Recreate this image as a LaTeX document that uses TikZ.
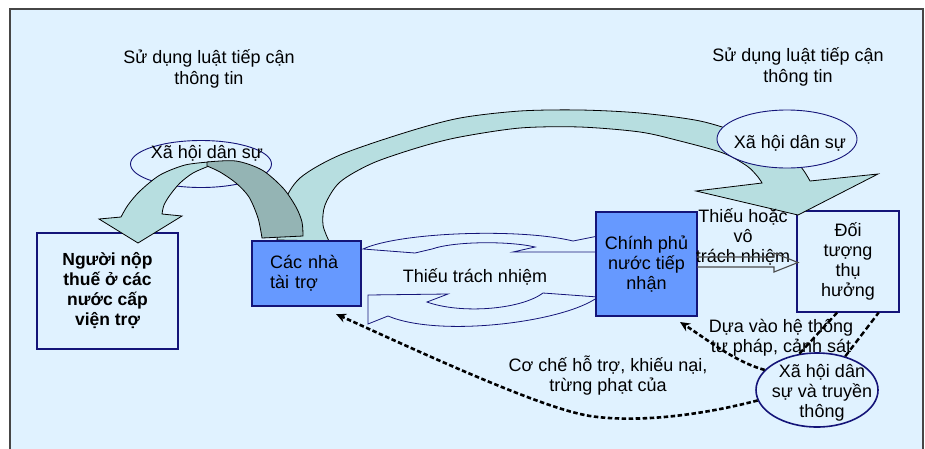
\documentclass[tikz,border=0pt]{standalone}
\usepackage{fontspec}
\setmainfont{Liberation Sans}
\usetikzlibrary{arrows.meta,shapes.geometric,calc}
\definecolor{bgblue}{RGB}{224,242,255}
\definecolor{navy}{RGB}{20,20,120}
\definecolor{boxblue}{RGB}{102,153,255}
\definecolor{tealA}{RGB}{183,222,224}
\definecolor{tealB}{RGB}{148,180,180}
\definecolor{framegray}{RGB}{70,70,70}
\begin{document}
\begin{tikzpicture}[x=1pt,y=-1pt,
  every node/.style={font=\fontsize{18}{20}\selectfont, text=black},
  plainbox/.style={draw=navy, line width=1.1pt, fill=bgblue, inner sep=0pt},
  bluebox/.style={draw=navy, line width=1.4pt, fill=boxblue, inner sep=0pt},
  oval/.style={ellipse, draw=navy, line width=0.9pt, fill=bgblue, inner sep=0pt},
  bandarrow/.style={draw=navy, line width=0.8pt, fill=bgblue, line join=miter},
  bigarrow/.style={draw=black, line width=0.8pt, fill=tealA},
  darkarrow/.style={draw=black, line width=0.8pt, fill=tealB},
  dasharrow/.style={line width=2.6pt, dash pattern=on 4.5pt off 2.5pt, -{Stealth[length=10pt,width=9pt]}},
  dashline/.style={line width=2.4pt, dash pattern=on 5.5pt off 3pt},
  txt/.style={align=center, inner sep=0pt}
]
\useasboundingbox (0,0) rectangle (925,448);
\fill[white] (0,0) rectangle (925,448);
\draw[framegray, line width=1.5pt, fill=bgblue] (10,9) rectangle (923,470);

% left ellipse (behind the arrows)
\node[oval, minimum width=141pt, minimum height=47pt] (ellL) at (201,164) {};

% boxes that the arrow heads overlap
\node[plainbox, minimum width=141pt, minimum height=116pt, align=center, font=\fontsize{17.5}{20}\selectfont\bfseries] (taxpayer) at (107.5,291) {Người nộp\\thuế ở các\\nước cấp\\viện trợ};
\node[plainbox, minimum width=102pt, minimum height=101pt, align=center] (benef) at (848,261.5) {Đối\\tượng\\thụ\\hưởng};

% big curved arrow
\path[bigarrow] plot[smooth] coordinates {(277,240) (283,205) (300,178) (340,155) (407,132) (460,118) (520,111) (580,110) (640,113) (700,121) (745,135) (780,152) (800,166) (810,181)}
  -- (878,174) -- (798,215) -- (696,191)
  -- plot[smooth] coordinates {(762,183) (758,177) (747,166) (723,153) (680,141) (640,132) (580,127) (520,128) (460,137) (420,147) (373,163) (340,182) (325,205) (323,225) (329,241)} -- cycle;

% left 3D curved arrow
\path[bigarrow] plot[smooth] coordinates {(209,162) (185,165) (160,175) (140,191) (128,205) (121,217)}
  -- (99,219) -- (138,243) -- (182,216)
  -- plot[smooth] coordinates {(162,214) (164,205) (170,195) (180,183) (193,173) (209,166)} -- cycle;
\path[darkarrow] plot[smooth] coordinates {(207,162) (236,161) (262,170) (283,188) (296,207) (302,222) (303,236)}
  -- plot[smooth] coordinates {(262,238) (258,218) (249,197) (236,183) (220,172) (207,166)} -- cycle;

% right ellipse (over the big arrow)
\node[oval, minimum width=140pt, minimum height=58pt] (ellR) at (787,139) {};

% circular arrows between donors and government
\path[bandarrow] (363,249) .. controls (400,232) and (520,228) .. (573,241) -- (598,236) -- (598,252) -- (513,252) -- (535,247)
  .. controls (510,241) and (455,241) .. (432,249) -- (415,253) -- cycle;
\path[bandarrow] (368,295) -- (448,294) -- (427,302) .. controls (460,314) and (520,310) .. (543,293) -- (598,297)
  .. controls (565,322) and (440,338) .. (388,316) -- (368,324) -- cycle;

% blue boxes
\node[bluebox, minimum width=109pt, minimum height=65pt, text width=73pt, inner xsep=18pt, align=left] (donor) at (306.5,273.5) {Các nhà\\tài trợ};
\node[bluebox, line width=1.8pt, minimum width=101pt, minimum height=104pt, align=center] (govt) at (646.5,264) {Chính phủ\\nước tiếp\\nhận};

% block arrow government -> beneficiaries
\node[txt] (lackText) at (743,237) {Thiếu hoặc\\vô\\trách nhiệm};
\path[draw=gray!60!black, line width=1.1pt] (697,257) -- (774,257) -- (774,253) -- (798,262.5) -- (774,272) -- (774,267) -- (697,267);

% texts
\node[txt, font=\fontsize{18}{21.5}\selectfont] (lawL) at (209,69) {Sử dụng luật tiếp cận\\thông tin};
\node[txt, font=\fontsize{18}{21.5}\selectfont] (lawR) at (798,67) {Sử dụng luật tiếp cận\\thông tin};
\node[txt] (ellLtext) at (207,153) {Xã hội dân sự};
\node[txt] (ellRtext) at (790,143) {Xã hội dân sự};
\node[txt] (lackResp) at (475,277) {Thiếu trách nhiệm};
\node[txt] (relyText) at (781,337) {Dựa vào hệ thống\\tư pháp, cảnh sát};
\node[txt] (mechText) at (608,376) {Cơ chế hỗ trợ, khiếu nại,\\trừng phạt của};

% civil society & media ellipse
\node[oval, line width=1.6pt, minimum width=122pt, minimum height=74pt] (ellM) at (817,390) {};
\node[txt] (ellMtext) at (822,393) {Xã hội dân\\sự và truyền\\thông};

\coordinate (donorTip) at (336,314);
\coordinate (govtTip) at (680,322);
\draw[dasharrow] (ellM.190) .. controls (690,418) and (630,422) .. (590,416) .. controls (540,408) and (420,352) .. (donorTip);
\draw[dasharrow] (ellM.159) .. controls (735,362) and (705,338) .. (govtTip);
\draw[dashline] (ellM.116) -- (benef.258);
\draw[dashline] (ellM.50) -- (benef.301);
\end{tikzpicture}
\end{document}
